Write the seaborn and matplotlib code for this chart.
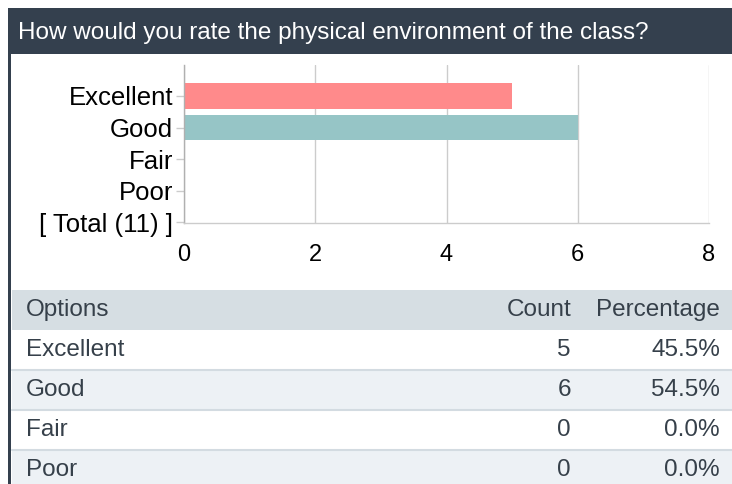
import matplotlib

matplotlib.use("Agg")
import matplotlib.pyplot as plt
import pandas as pd
import seaborn as sns
from matplotlib.patches import Rectangle

TITLE = "How would you rate the physical environment of the class?"
CATEGORIES = ["Excellent", "Good", "Fair", "Poor", "[ Total (11) ]"]
COUNTS = [5, 6, 0, 0, 0]
BAR_COLORS = ["#ff8a8b", "#96c5c6", "#96c5c6", "#96c5c6", "#96c5c6"]
X_TICKS = [0, 2, 4, 6, 8]

TABLE_OPTIONS = ["Excellent", "Good", "Fair", "Poor"]
TABLE_COUNTS = [5, 6, 0, 0]
TABLE_PERCENTS = ["45.5%", "54.5%", "0.0%", "0.0%"]

W, H = 732, 484
DARK = "#34404e"
TEXT = "#36404a"
TABLE_FS = 17.5

sns.set_theme(style="white")
plt.rcParams["font.family"] = ["Liberation Sans", "DejaVu Sans"]

fig = plt.figure(figsize=(W / 100, H / 100), dpi=100)

# background layer in pixel coordinates
bg = fig.add_axes([0, 0, 1, 1])
bg.set_xlim(0, W)
bg.set_ylim(H, 0)
bg.axis("off")
bg.add_patch(Rectangle((8, 8), W - 8, 46, color=DARK, lw=0))
bg.add_patch(Rectangle((8, 8), 2.5, H - 8, color=DARK, lw=0))
bg.text(18, 33, TITLE, color="white", fontsize=17.5, va="center", ha="left")

# table
row_h = 40
top = 290
bg.add_patch(Rectangle((12, top), W - 12, row_h, color="#d6dee3", lw=0))
bg.text(26, top + row_h / 2, "Options", color=TEXT, fontsize=TABLE_FS, va="center")
bg.text(571, top + row_h / 2, "Count", color=TEXT, fontsize=TABLE_FS, va="center", ha="right")
bg.text(720, top + row_h / 2, "Percentage", color=TEXT, fontsize=TABLE_FS, va="center", ha="right")
for i, (opt, cnt, pct) in enumerate(zip(TABLE_OPTIONS, TABLE_COUNTS, TABLE_PERCENTS)):
    y0 = top + row_h * (i + 1)
    fill = "white" if i % 2 == 0 else "#edf1f5"
    bg.add_patch(Rectangle((12, y0), W - 12, row_h, color=fill, lw=0))
    if i > 0:
        bg.plot([12, W], [y0, y0], color="#d3dbe1", lw=1.5)
    yc = y0 + row_h / 2
    bg.text(26, yc, opt, color=TEXT, fontsize=TABLE_FS, va="center")
    bg.text(571, yc, str(cnt), color=TEXT, fontsize=TABLE_FS, va="center", ha="right")
    bg.text(720, yc, pct, color=TEXT, fontsize=TABLE_FS, va="center", ha="right")

# bar chart
ax = fig.add_axes([184 / W, 1 - 223 / H, 525 / W, 158 / H])
df = pd.DataFrame({"option": CATEGORIES, "count": COUNTS})
sns.barplot(
    data=df, x="count", y="option", hue="option", palette=BAR_COLORS,
    legend=False, width=0.8, saturation=1, linewidth=0, ax=ax, orient="h",
)
ax.set_xlim(0, 8)
ax.set_ylim(4.02, -0.98)
ax.set_xticks(X_TICKS)
ax.set_xlabel("")
ax.set_ylabel("")
ax.patch.set_alpha(0)
ax.grid(axis="x", color="#cccccc", lw=1)
ax.set_axisbelow(True)
for side in ["top", "right"]:
    ax.spines[side].set_visible(False)
ax.spines["left"].set_color("#b0b0b0")
ax.spines["left"].set_linewidth(1)
ax.spines["bottom"].set_color("#cccccc")
ax.spines["bottom"].set_linewidth(1)
ax.tick_params(axis="y", left=True, length=6, width=1, color="#cccccc", pad=2, labelsize=18.5, labelcolor="black")
ax.tick_params(axis="x", bottom=False, pad=9, labelsize=17, labelcolor="black")

fig.savefig("out.png", dpi=100)
